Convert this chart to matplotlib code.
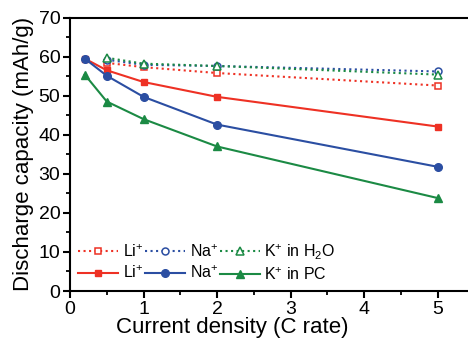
import matplotlib.pyplot as plt
import numpy as np

plt.rcParams['font.family'] = ['Liberation Sans', 'DejaVu Sans']
plt.rcParams['mathtext.fontset'] = 'custom'
plt.rcParams['mathtext.rm'] = 'Liberation Sans'

# current density (C rate)
x_full = [0.2, 0.5, 1, 2, 5]
x_h2o = [0.5, 1, 2, 5]

# aqueous (H2O) electrolytes, dotted/open markers
li_h2o = [58.4, 57.3, 55.8, 52.6]
na_h2o = [59.2, 57.9, 57.6, 56.2]
k_h2o = [59.7, 58.2, 57.6, 55.4]

# organic (PC) electrolytes, solid/filled markers
li_pc = [59.5, 56.5, 53.5, 49.7, 42.1]
na_pc = [59.5, 55.1, 49.7, 42.6, 31.8]
k_pc = [55.4, 48.5, 44.0, 37.0, 23.8]

red = '#ee3124'
blue = '#2b4ea2'
green = '#1b8a44'

fig = plt.figure(figsize=(4.68, 3.44), dpi=100)
ax = fig.add_axes([0.1496, 0.154, 0.8515, 0.795])

l1, = ax.plot(x_h2o, li_h2o, ls=':', lw=1.5, color=red, marker='s', ms=5,
              mfc='white', mec=red, mew=1.1, label='Li$^{+}$')
l2, = ax.plot(x_h2o, na_h2o, ls=':', lw=1.5, color=blue, marker='o', ms=5,
              mfc='white', mec=blue, mew=1.1, label='Na$^{+}$')
l3, = ax.plot(x_h2o, k_h2o, ls=':', lw=1.5, color=green, marker='^', ms=5.5,
              mfc='white', mec=green, mew=1.1, label='K$^{+}$ in H$_2$O')
l4, = ax.plot(x_full, li_pc, ls='-', lw=1.5, color=red, marker='s', ms=5, label='Li$^{+}$')
l5, = ax.plot(x_full, na_pc, ls='-', lw=1.5, color=blue, marker='o', ms=5.5, label='Na$^{+}$')
l6, = ax.plot(x_full, k_pc, ls='-', lw=1.5, color=green, marker='^', ms=6, label='K$^{+}$ in PC')

ax.set_xlim(0, 5.42)
ax.set_ylim(0, 70)
ax.set_xticks([0, 1, 2, 3, 4, 5])
ax.set_xticks(np.arange(0.5, 5.5, 1), minor=True)
ax.set_yticks(range(0, 71, 10))
ax.set_yticks(range(5, 70, 10), minor=True)
ax.tick_params(which='major', direction='out', length=5, width=1.5, labelsize=14, pad=2)
ax.tick_params(which='minor', direction='out', length=3, width=1.3)
for s in ['left', 'bottom', 'top']:
    ax.spines[s].set_linewidth(1.5)
ax.spines['right'].set_visible(False)

ax.set_xlabel('Current density (C rate)', fontsize=16)
ax.xaxis.set_label_coords(0.407, -0.095)
ax.set_ylabel('Discharge capacity (mAh/g)', fontsize=16, labelpad=3)

# column-major fill -> dotted row on top, solid row below
handles = [l1, l4, l2, l5, l3, l6]
ax.legend(handles, [h.get_label() for h in handles], ncol=3, loc='lower left',
          bbox_to_anchor=(0.0, 0.0), frameon=False,
          fontsize=11.5, handlelength=2.5, columnspacing=0.1, handletextpad=0.3,
          labelspacing=0.3, borderaxespad=0.1)

fig.savefig('out.png', dpi=100)
